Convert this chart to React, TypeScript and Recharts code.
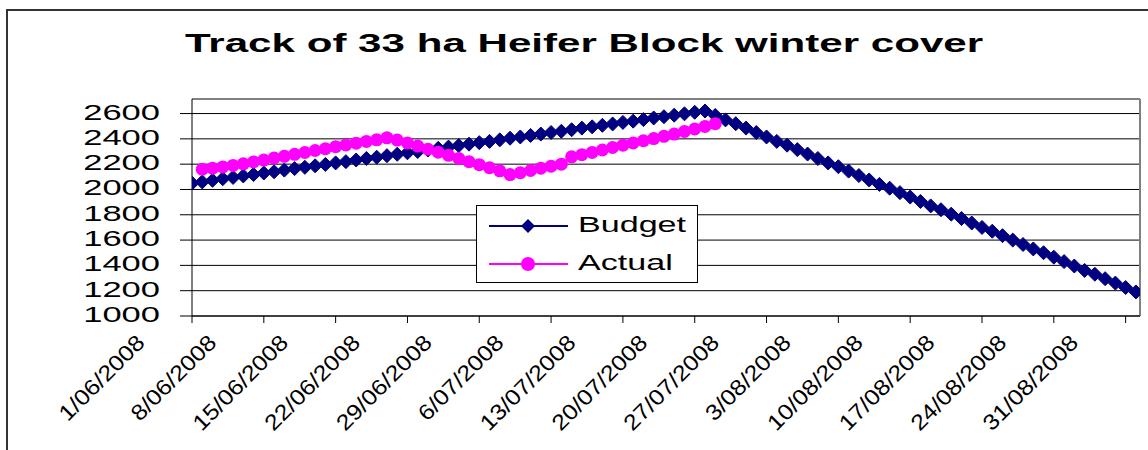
import React from "react"
import { LineChart, Line, XAxis, YAxis, CartesianGrid, ReferenceLine } from "recharts"

// daily feed cover (kg DM/ha), day 0 = 1/06/2008
const budget = [
  2050, 2060, 2072, 2085, 2095, 2107, 2118, 2130, 2140, 2153, 2165, 2175, 2187, 2198, 2210, 2220, 2233,
  2245, 2255, 2267, 2278, 2290, 2300, 2312, 2325, 2335, 2347, 2358, 2370, 2380, 2392, 2405, 2415, 2427,
  2438, 2450, 2460, 2472, 2485, 2495, 2507, 2518, 2530, 2540, 2552, 2565, 2575, 2587, 2598, 2610, 2620,
  2585, 2550, 2520, 2485, 2450, 2415, 2380, 2350, 2315, 2280, 2245, 2210, 2180, 2145, 2110, 2075, 2040,
  2010, 1975, 1940, 1905, 1870, 1840, 1805, 1770, 1735, 1700, 1670, 1635, 1600, 1565, 1530, 1500, 1465,
  1430, 1395, 1360, 1330, 1295, 1260, 1225, 1190,
]

const actual = [
  null, 2160, 2168, 2178, 2190, 2203, 2218, 2232, 2248, 2262, 2278, 2292, 2308, 2322, 2338, 2352, 2366,
  2380, 2392, 2408, 2390, 2368, 2343, 2318, 2294, 2270, 2245, 2220, 2196, 2172, 2147, 2118, 2132, 2150,
  2168, 2184, 2200, 2258, 2275, 2293, 2312, 2332, 2350, 2368, 2385, 2402, 2420, 2438, 2458, 2478, 2498,
  2520,
]

const tickDays = [0, 7, 14, 21, 28, 35, 42, 49, 56, 63, 70, 77, 84, 91]
const xLabels = [
  "1/06/2008", "8/06/2008", "15/06/2008", "22/06/2008", "29/06/2008", "6/07/2008", "13/07/2008",
  "20/07/2008", "27/07/2008", "3/08/2008", "10/08/2008", "17/08/2008", "24/08/2008", "31/08/2008",
]
const yTicks = [1000, 1200, 1400, 1600, 1800, 2000, 2200, 2400, 2600]

const data = budget.map((b, i) => ({ day: i, budget: b, actual: actual[i] ?? null }))

const FONT = "'Liberation Sans', Arial, sans-serif"
const NAVY = "#000080"
const PINK = "#FF00FF"

const XTick = (props: any) => {
  const { x, y, payload } = props
  const label = xLabels[tickDays.indexOf(payload.value)]
  return (
    <g transform={`translate(${x - 46},${y + 19}) rotate(-45) scale(1.13,1)`}>
      <text x={0} y={0} textAnchor="end" fontSize={22} fontFamily={FONT} fill="#000">
        {label}
      </text>
    </g>
  )
}

const YTick = (props: any) => {
  const { x, y, payload } = props
  return (
    <g transform={`translate(${x - 18},${y + 6}) scale(1.57,1)`}>
      <text x={0} y={0} textAnchor="end" fontSize={22} fontFamily={FONT} fill="#000">
        {payload.value}
      </text>
    </g>
  )
}

const Diamond = (props: any) => {
  const { cx, cy } = props
  if (cx == null || cy == null) return <g />
  return <polygon points={`${cx - 7},${cy} ${cx},${cy - 7} ${cx + 7},${cy} ${cx},${cy + 7}`} fill={NAVY} stroke={NAVY} />
}

const Dot = (props: any) => {
  const { cx, cy, value } = props
  if (cx == null || cy == null || value == null) return <g />
  return <circle cx={cx} cy={cy} r={6.5} fill={PINK} stroke="none" />
}

export default function App() {
  return (
    <div style={{ position: "absolute", left: 0, top: 0, width: 1148, height: 450, background: "#fff", overflow: "hidden" }}>
      <LineChart width={1148} height={450} data={data} margin={{ top: 99, right: 8, left: 0, bottom: 0 }}>
        <CartesianGrid vertical={false} stroke="#000" strokeWidth={1} />
        <XAxis
          type="number"
          dataKey="day"
          domain={[0, 92.4]}
          allowDataOverflow
          ticks={tickDays}
          interval={0}
          tickSize={7}
          height={134}
          axisLine={{ stroke: "#000" }}
          tickLine={{ stroke: "#000" }}
          tick={<XTick />}
        />
        <YAxis
          type="number"
          domain={[1000, 2715]}
          allowDataOverflow
          ticks={yTicks}
          interval={0}
          width={192}
          tickSize={12}
          axisLine={{ stroke: "#000" }}
          tickLine={{ stroke: "#000" }}
          tick={<YTick />}
        />
        <ReferenceLine y={2715} stroke="#808080" strokeWidth={2} />
        <ReferenceLine x={92.4} stroke="#808080" strokeWidth={2} />
        <Line type="linear" dataKey="budget" stroke={NAVY} strokeWidth={2} dot={<Diamond />} isAnimationActive={false} />
        <Line type="linear" dataKey="actual" stroke={PINK} strokeWidth={2} dot={<Dot />} isAnimationActive={false} />
      </LineChart>
      <svg width={1148} height={450} style={{ position: "absolute", left: 0, top: 0, pointerEvents: "none" }}>
        <rect x={7} y={10} width={1200} height={500} fill="none" stroke="#333" strokeWidth={2} />
        <g transform="translate(584,52) scale(1.62,1)">
          <text x={0} y={0} textAnchor="middle" fontSize={26} fontWeight="bold" fontFamily={FONT} fill="#000">
            Track of 33 ha Heifer Block winter cover
          </text>
        </g>
        <rect x={476.5} y={205.5} width={221} height={77} fill="#fff" stroke="#000" strokeWidth={1} />
        <line x1={489} y1={226} x2={568} y2={226} stroke={NAVY} strokeWidth={2} />
        <polygon points="521,226 528,219 535,226 528,233" fill={NAVY} />
        <g transform="translate(578,232) scale(1.55,1)">
          <text x={0} y={0} fontSize={22} fontFamily={FONT} fill="#000">Budget</text>
        </g>
        <line x1={489} y1={264} x2={568} y2={264} stroke={PINK} strokeWidth={2} />
        <circle cx={528} cy={264} r={7} fill={PINK} />
        <g transform="translate(578,270) scale(1.55,1)">
          <text x={0} y={0} fontSize={22} fontFamily={FONT} fill="#000">Actual</text>
        </g>
      </svg>
    </div>
  )
}
